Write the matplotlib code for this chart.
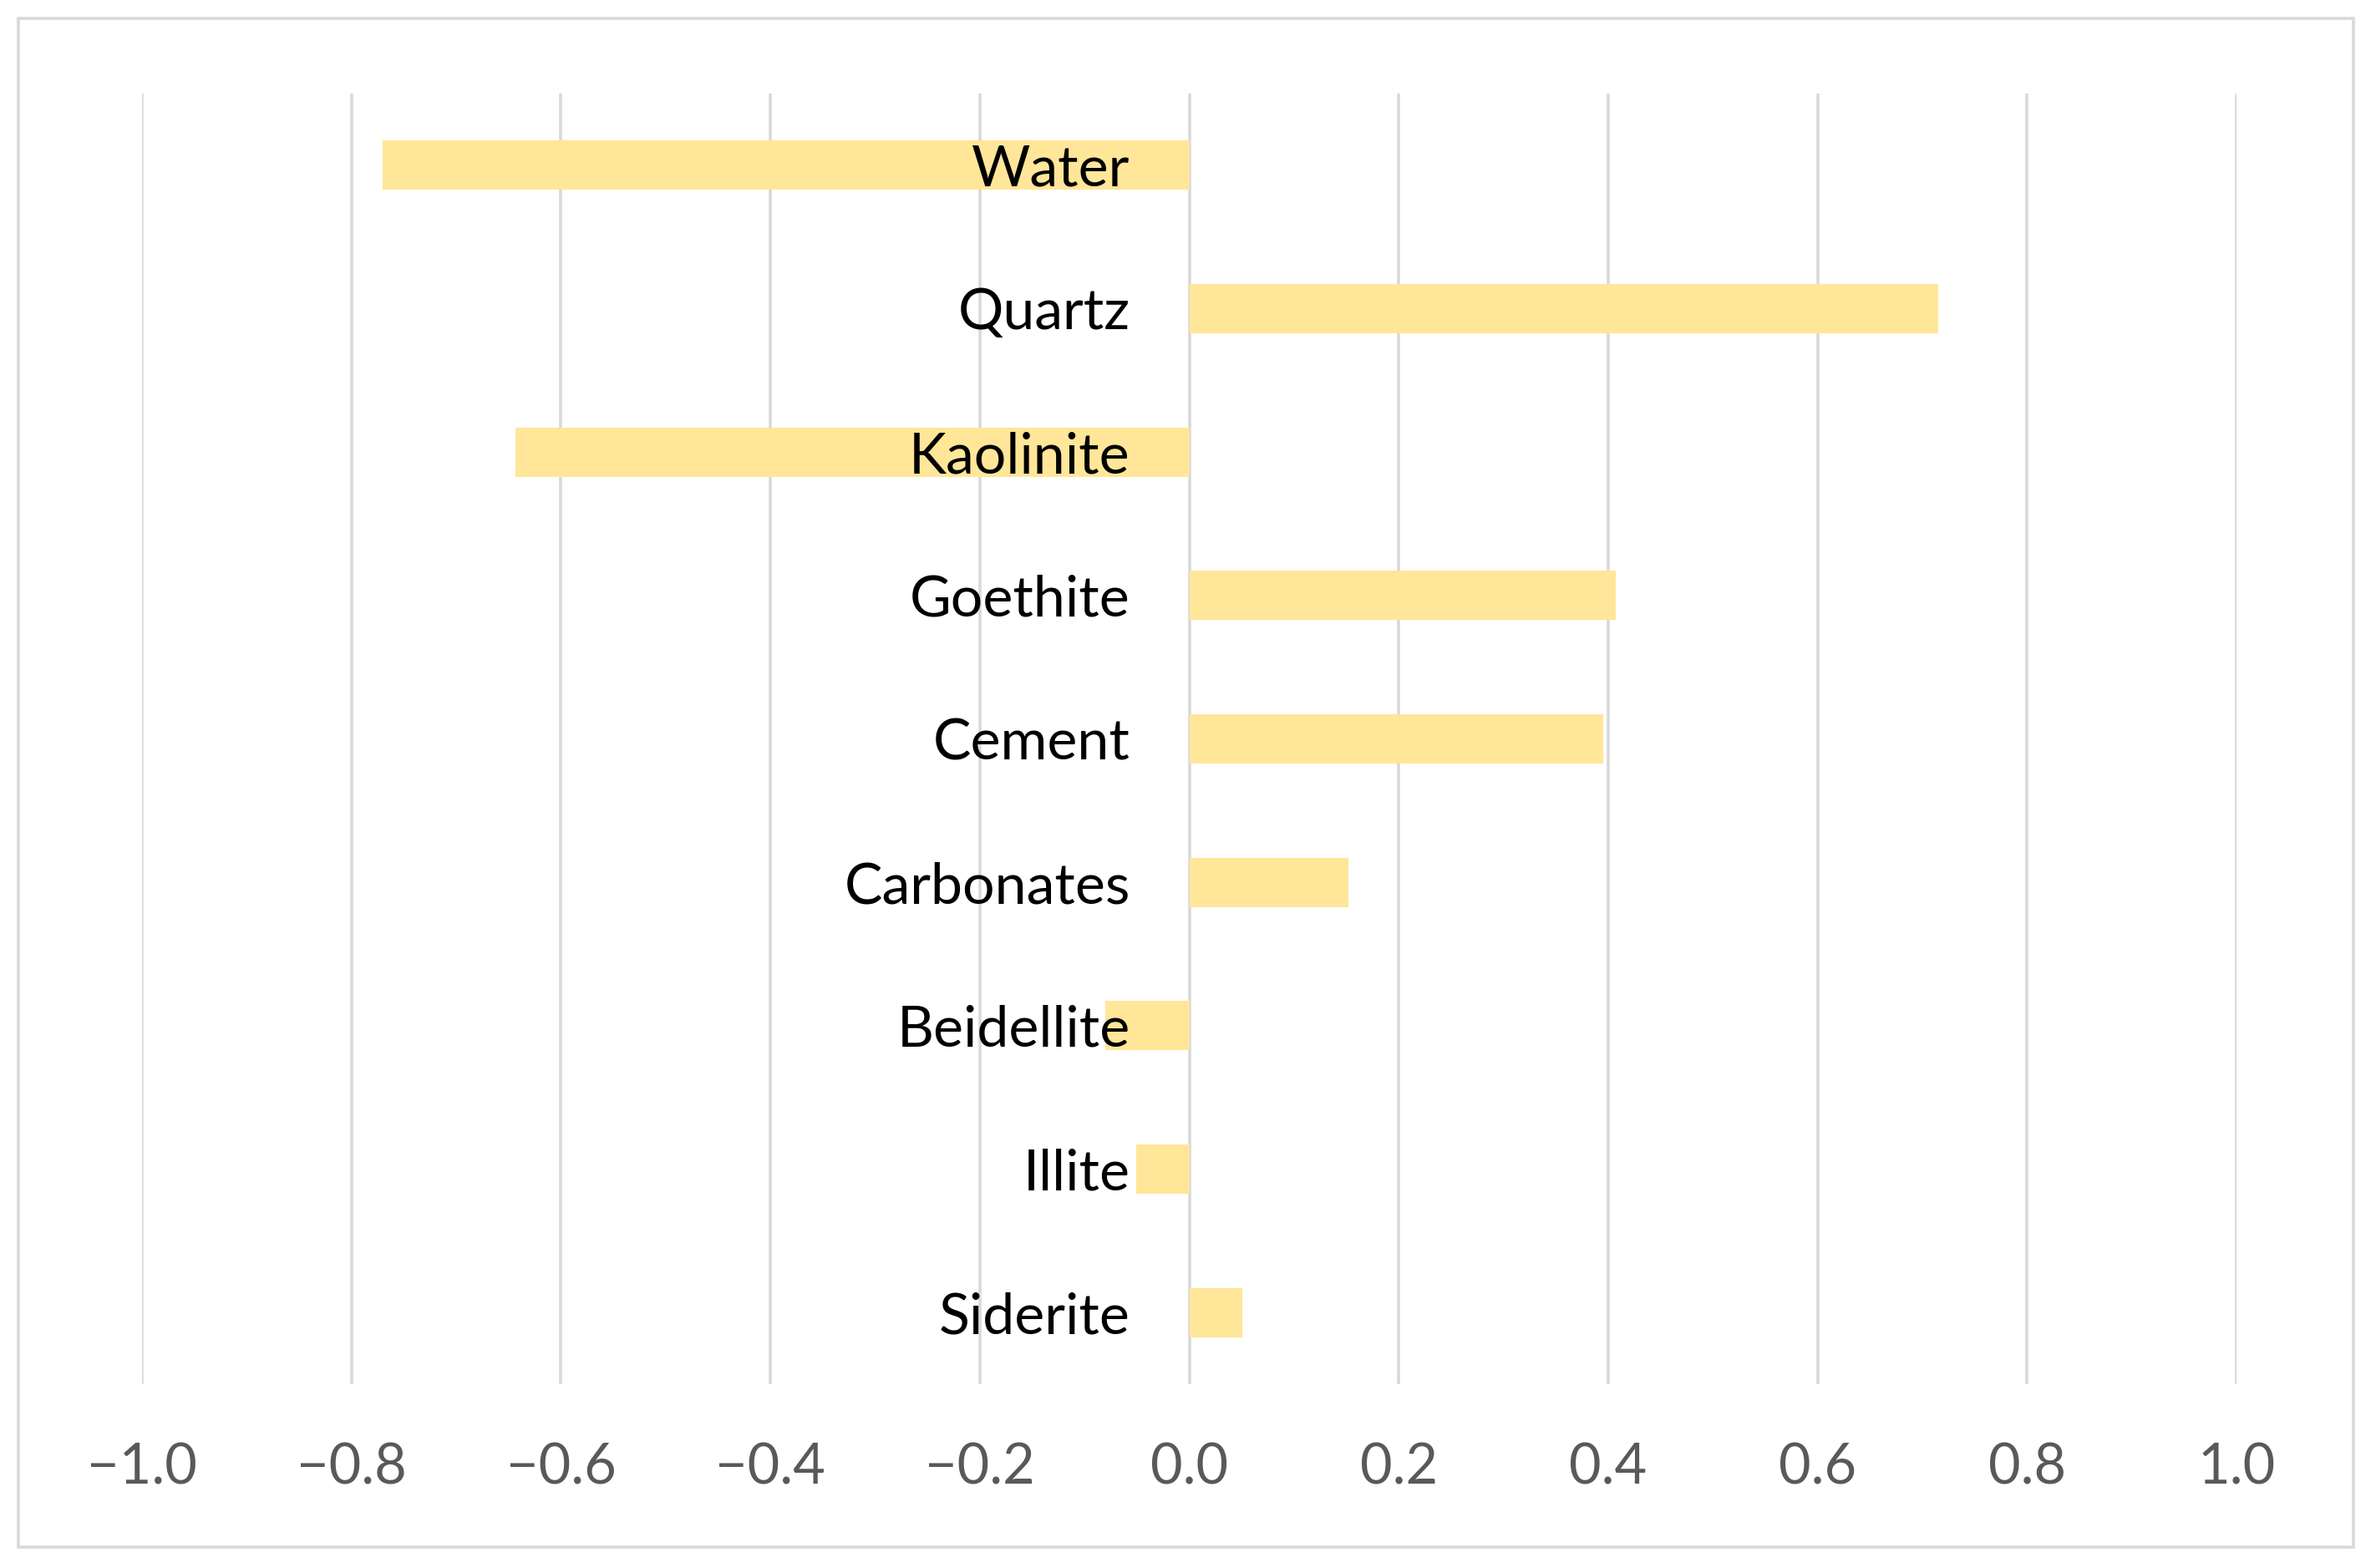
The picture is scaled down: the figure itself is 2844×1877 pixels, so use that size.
import matplotlib
matplotlib.use("Agg")
import matplotlib.pyplot as plt
from matplotlib.patches import Rectangle

categories = ["Water", "Quartz", "Kaolinite", "Goethite", "Cement",
              "Carbonates", "Beidellite", "Illite", "Siderite"]
values = [-0.770, 0.715, -0.643, 0.407, 0.395, 0.152, -0.080, -0.051, 0.051]
xticks = [-1.0, -0.8, -0.6, -0.4, -0.2, 0.0, 0.2, 0.4, 0.6, 0.8, 1.0]
xticklabels = ["\u22121.0", "\u22120.8", "\u22120.6", "\u22120.4", "\u22120.2",
               "0.0", "0.2", "0.4", "0.6", "0.8", "1.0"]

plt.rcParams['font.family'] = ['Lato', 'DejaVu Sans']

W, H = 2844, 1877
fig = plt.figure(figsize=(W / 100, H / 100), dpi=100)
ax = fig.add_axes([170 / W, 1 - 1657 / H, (2677 - 170) / W, (1657 - 112) / H])

ypos = list(range(len(categories)))
ax.barh(ypos, values, height=0.345, color="#FFE699", zorder=3)

ax.set_xlim(-1.0, 1.0)
ax.set_ylim(len(categories) - 0.5, -0.5)
ax.set_xticks(xticks)
ax.set_xticklabels(xticklabels, fontsize=48, color="#595959")
ax.set_yticks([])
for s in ax.spines.values():
    s.set_visible(False)
ax.tick_params(axis='x', length=0, pad=50)
ax.grid(axis='x', color="#D9D9D9", linewidth=2.6, zorder=0)
ax.set_axisbelow(True)

for y, name in zip(ypos, categories):
    ax.annotate(name, xy=(0, y), xytext=(-51, 0), textcoords='offset points',
                ha='right', va='center_baseline', fontsize=49, color='black',
                zorder=6)

fig.patches.append(Rectangle((22 / W, 1 - 1852 / H), (2817 - 22) / W, (1852 - 22) / H,
                             transform=fig.transFigure, fill=False,
                             edgecolor="#D9D9D9", linewidth=2.6))

fig.savefig("out.png", dpi=100)
